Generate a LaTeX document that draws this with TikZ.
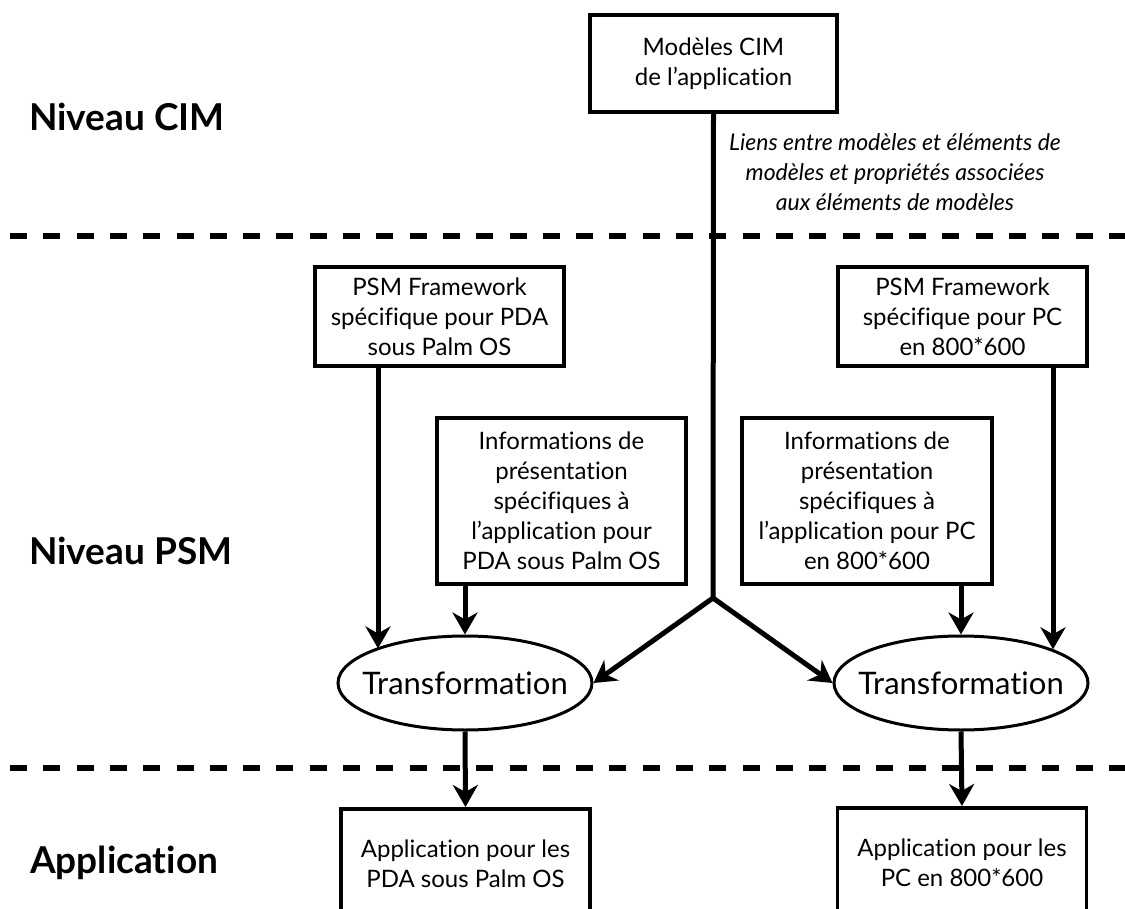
\documentclass[tikz,border=0pt]{standalone}
\usepackage{fontspec}
\setmainfont{Lato}[Ligatures={TeX,NoCommon}]
\usetikzlibrary{shapes.geometric,arrows.meta,calc}
\begin{document}
\begin{tikzpicture}[x=1pt,y=-1pt,
  box/.style={draw, line width=3.5pt, align=center, inner sep=0pt, font=\fontsize{24}{30}\selectfont},
  ell/.style={ellipse, draw, line width=3pt, minimum width=254pt, minimum height=94pt, inner xsep=-25pt, inner ysep=-10pt, font=\fontsize{31}{36}\selectfont},
  tipA/.style={-{Stealth[length=22pt,width=25pt,inset=7pt]}},
  arr/.style={line width=5pt, tipA},
  lvl/.style={font=\bfseries\fontsize{37}{40}\selectfont, anchor=base west, inner sep=0pt},
  sep/.style={line width=6pt, dash pattern=on 17pt off 16.3pt}]
\useasboundingbox (0,0) rectangle (1125,909);
\clip (0,0) rectangle (1125,909);

% separators
\draw[sep] (10,236) -- (1125,236);
\draw[sep] (10,768) -- (1125,768);

% level labels
\node[lvl] (lcim) at (29,131) {Niveau CIM};
\node[lvl] (lpsm) at (29,564) {Niveau PSM};
\node[lvl] (lapp) at (30,873) {Application};

% nodes
\node[box, minimum width=247pt, minimum height=97pt] (cim) at (713.5,63.5) {Modèles CIM\\de l'application};
\node[font=\itshape\fontsize{23}{30}\selectfont, align=center, inner sep=0pt] (links) at (895,172) {Liens entre modèles et éléments de\\modèles et propriétés associées\\aux éléments de modèles};

\node[box, minimum width=249pt, minimum height=99pt] (fwL) at (439.5,316.5) {PSM Framework\\spécifique pour PDA\\sous Palm OS};
\node[box, minimum width=249pt, minimum height=99pt] (fwR) at (962.5,316.5) {PSM Framework\\spécifique pour PC\\en 800*600};

\node[box, minimum width=249pt, minimum height=166pt] (infoL) at (561.5,501) {Informations de\\présentation\\spécifiques à\\l'application pour\\PDA sous Palm OS};
\node[box, minimum width=250pt, minimum height=166pt] (infoR) at (867,501) {Informations de\\présentation\\spécifiques à\\l'application pour PC\\en 800*600};

\node[ell] (ellL) at (465,683) {Transformation};
\node[ell] (ellR) at (961,683) {Transformation};

\node[box, minimum width=249pt, minimum height=110pt, anchor=north] (appL) at (465.5,807) {Application pour les\\PDA sous Palm OS};
\node[box, minimum width=249pt, minimum height=110pt, anchor=north] (appR) at (962,806) {Application pour les\\PC en 800*600};

% connectors
\coordinate (branch) at (713,598);
\draw[line width=5pt] (cim.south) -- (branch);
\draw[line width=5pt, {Stealth[length=22pt,width=25pt,inset=7pt]}-{Stealth[length=22pt,width=25pt,inset=7pt]}] (ellL.east) -- (branch) -- (ellR.west);

\draw[arr] ([xshift=-61.5pt]fwL.south) -- ([xshift=-61.5pt]fwL.south |- ellL.159);
\draw[arr] (infoL.south -| ellL.north) -- (ellL.north);
\draw[arr] (infoR.south -| ellR.north) -- (ellR.north);
\draw[arr] ([xshift=90.5pt]fwR.south) -- ([xshift=90.5pt]fwR.south |- ellR.20);

\draw[arr] (ellL.south) -- (appL.north);
\draw[arr] (ellR.south) -- (appR.north);
\end{tikzpicture}
\end{document}
